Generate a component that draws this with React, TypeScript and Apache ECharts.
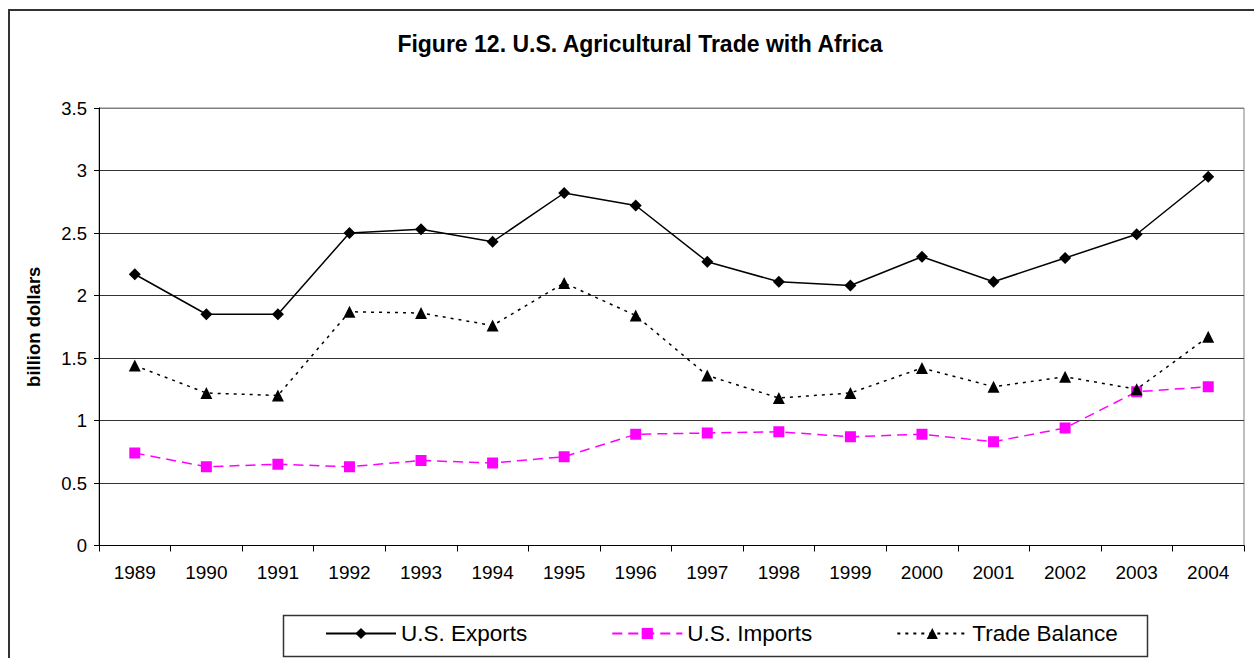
import React, { useEffect, useRef } from "react";
import * as echarts from "echarts";

const years = ["1989","1990","1991","1992","1993","1994","1995","1996","1997","1998","1999","2000","2001","2002","2003","2004"];
const exportsVals = [2.17, 1.85, 1.85, 2.50, 2.53, 2.43, 2.82, 2.72, 2.27, 2.11, 2.08, 2.31, 2.11, 2.30, 2.49, 2.95];
const importsVals = [0.74, 0.63, 0.65, 0.63, 0.68, 0.66, 0.71, 0.89, 0.90, 0.91, 0.87, 0.89, 0.83, 0.94, 1.23, 1.27];
const balanceVals = [1.44, 1.22, 1.20, 1.87, 1.86, 1.76, 2.10, 1.84, 1.36, 1.18, 1.22, 1.42, 1.27, 1.35, 1.25, 1.67];
const titleText = "Figure 12. U.S. Agricultural Trade with Africa";
const yAxisName = "billion dollars";

const FONT = "Arial, 'Liberation Sans', sans-serif";

export default function App() {
  const ref = useRef<HTMLDivElement>(null);
  useEffect(() => {
    if (!ref.current) return;
    const chart = echarts.init(ref.current, null, { renderer: "svg" });
    chart.setOption({
      animation: false,
      backgroundColor: "#ffffff",
      textStyle: { fontFamily: FONT },
      title: {
        text: titleText,
        left: 635,
        textAlign: "center",
        top: 27,
        textStyle: { fontFamily: FONT, fontSize: 23, fontWeight: "bold", color: "#000" },
      },
      grid: { left: 99, right: 10, top: 108, bottom: 112.5, show: true, borderColor: "#808080", borderWidth: 1 },
      legend: {
        left: 325,
        top: 622,
        padding: 0,
        itemWidth: 70,
        itemHeight: 14,
        itemGap: 84,
        textStyle: { fontFamily: FONT, fontSize: 22.5, color: "#000" },
        data: ["U.S. Exports", "U.S. Imports", "Trade Balance"],
      },
      xAxis: {
        type: "category",
        data: years,
        boundaryGap: true,
        axisLine: { lineStyle: { color: "#000", width: 1 } },
        axisTick: { show: true, interval: 0, length: 6, lineStyle: { color: "#000" } },
        axisLabel: { interval: 0, fontSize: 19, color: "#000", margin: 17, fontFamily: FONT },
        splitLine: { show: false },
      },
      yAxis: {
        type: "value",
        min: 0,
        max: 3.5,
        interval: 0.5,
        name: yAxisName,
        nameLocation: "middle",
        nameGap: 56,
        nameTextStyle: { fontFamily: FONT, fontSize: 18.5, fontWeight: "bold", color: "#000" },
        axisLine: { show: true, lineStyle: { color: "#000", width: 1 } },
        axisTick: { show: true, length: 5, lineStyle: { color: "#000" } },
        axisLabel: { fontSize: 18.5, color: "#000", margin: 12, fontFamily: FONT },
        splitLine: {
          show: true,
          lineStyle: { color: ["#222", "#333", "#333", "#333", "#333", "#333", "#333", "#808080"], width: 1 },
        },
      },
      series: [
        {
          name: "U.S. Exports",
          type: "line",
          data: exportsVals,
          symbol: "diamond",
          symbolSize: 12,
          lineStyle: { color: "#000", width: 1.5, type: "solid" },
          itemStyle: { color: "#000" },
          z: 3,
        },
        {
          name: "U.S. Imports",
          type: "line",
          data: importsVals,
          symbol: "rect",
          symbolSize: 11,
          lineStyle: { color: "#ff00ff", width: 1.5, type: [10, 6] },
          itemStyle: { color: "#ff00ff" },
          z: 2,
        },
        {
          name: "Trade Balance",
          type: "line",
          data: balanceVals,
          symbol: "triangle",
          symbolSize: 12,
          lineStyle: { color: "#000", width: 1.5, type: [3, 5] },
          itemStyle: { color: "#000" },
          z: 4,
        },
      ],
      graphic: [
        {
          type: "rect",
          shape: { x: 9, y: 10, width: 1300, height: 700 },
          style: { fill: "none", stroke: "#333", lineWidth: 2 },
          silent: true,
        },
        {
          type: "rect",
          shape: { x: 283.5, y: 615.5, width: 864, height: 41 },
          style: { fill: "none", stroke: "#333", lineWidth: 1.5 },
          silent: true,
        },
      ],
    });
    return () => chart.dispose();
  }, []);
  return (
    <div
      ref={ref}
      style={{ position: "fixed", left: 0, top: 0, width: 1254, height: 658 }}
    />
  );
}
